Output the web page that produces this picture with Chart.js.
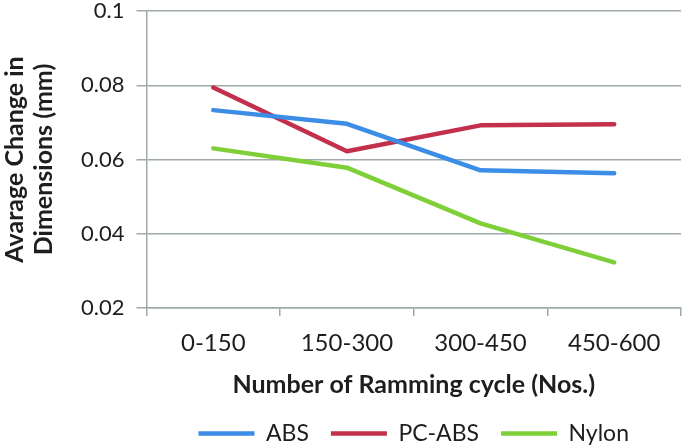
<!DOCTYPE html>
<html>
<head>
<meta charset="utf-8">
<script src="https://cdn.jsdelivr.net/npm/chart.js@4"></script>
<style>
  html, body { margin: 0; padding: 0; background: #fff; }
  #wrap { width: 685px; height: 446px; }
</style>
</head>
<body>
<div id="wrap"><canvas id="dimChart"></canvas></div>
<script>
// data
const cycles = ['0-150', '150-300', '300-450', '450-600'];
const absVals = [0.0733, 0.0696, 0.0571, 0.0563];
const pcAbsVals = [0.0794, 0.0622, 0.0692, 0.0695];
const nylonVals = [0.0630, 0.0578, 0.0428, 0.0323];
const yTicks = [0.02, 0.04, 0.06, 0.08, 0.1];

const gridColor = '#a0a9a9';
const textColor = '#1e1e1e';
const fontFam = 'Lato, "Open Sans", sans-serif';

function series(label, data, color) {
    return {
        label: label,
        data: data,
        borderColor: color,
        backgroundColor: color,
        borderWidth: 4.5,
        pointRadius: 0,
        tension: 0,
        fill: false,
        borderCapStyle: 'round',
        borderJoinStyle: 'round'
    };
}

// legend sits centred under the plot area, not the whole canvas
const legendUnderPlot = {
    id: 'legendUnderPlot',
    afterLayout(chart) {
        if (chart.legend) chart.legend.left = chart.chartArea.left;
    }
};

const ctx = document.getElementById('dimChart').getContext('2d');
new Chart(ctx, {
    type: 'line',
    data: {
        labels: cycles,
        datasets: [
            series('ABS', absVals, '#3b8de6'),
            series('PC-ABS', pcAbsVals, '#c2304b'),
            series('Nylon', nylonVals, '#7ecf38')
        ]
    },
    plugins: [legendUnderPlot],
    options: {
        responsive: true,
        maintainAspectRatio: false,
        animation: false,
        layout: { padding: { top: 0, right: 4, left: 0, bottom: -9 } },
        plugins: {
            tooltip: { enabled: false },
            legend: {
                position: 'bottom',
                labels: {
                    usePointStyle: true,
                    pointStyle: 'line',
                    pointStyleWidth: 56,
                    boxHeight: 5,
                    padding: 22,
                    color: textColor,
                    font: { family: fontFam, size: 23 }
                }
            }
        },
        scales: {
            x: {
                offset: true,
                grid: {
                    offset: true,
                    drawOnChartArea: false,
                    drawTicks: true,
                    tickLength: 8,
                    color: gridColor,
                    lineWidth: 1.5
                },
                border: { color: gridColor, width: 1.5 },
                ticks: {
                    color: textColor,
                    padding: 15,
                    font: { family: fontFam, size: 24, lineHeight: 1 }
                },
                title: {
                    display: true,
                    text: 'Number of Ramming cycle (Nos.)',
                    color: textColor,
                    padding: { top: 0, bottom: 0 },
                    font: { family: fontFam, size: 25, weight: 'bold', lineHeight: 1.2 }
                }
            },
            y: {
                min: 0.02,
                max: 0.1,
                afterBuildTicks: axis => {
                    axis.ticks = yTicks.map(v => ({ value: v }));
                },
                // only half the top label is needed above the plot
                afterFit: axis => {
                    axis.paddingTop = 11;
                },
                grid: {
                    color: gridColor,
                    lineWidth: 1.5,
                    tickLength: 10
                },
                border: { color: gridColor, width: 1.5 },
                ticks: {
                    color: textColor,
                    padding: 12,
                    font: { family: fontFam, size: 22, lineHeight: 1 },
                    callback: v => String(Number(v.toFixed(2)))
                },
                title: {
                    display: true,
                    text: ['Avarage Change in', 'Dimensions (mm)'],
                    color: textColor,
                    padding: { top: 0, bottom: 11 },
                    font: { family: fontFam, size: 25, weight: 'bold', lineHeight: 1.16 }
                }
            }
        }
    }
});
</script>
</body>
</html>
